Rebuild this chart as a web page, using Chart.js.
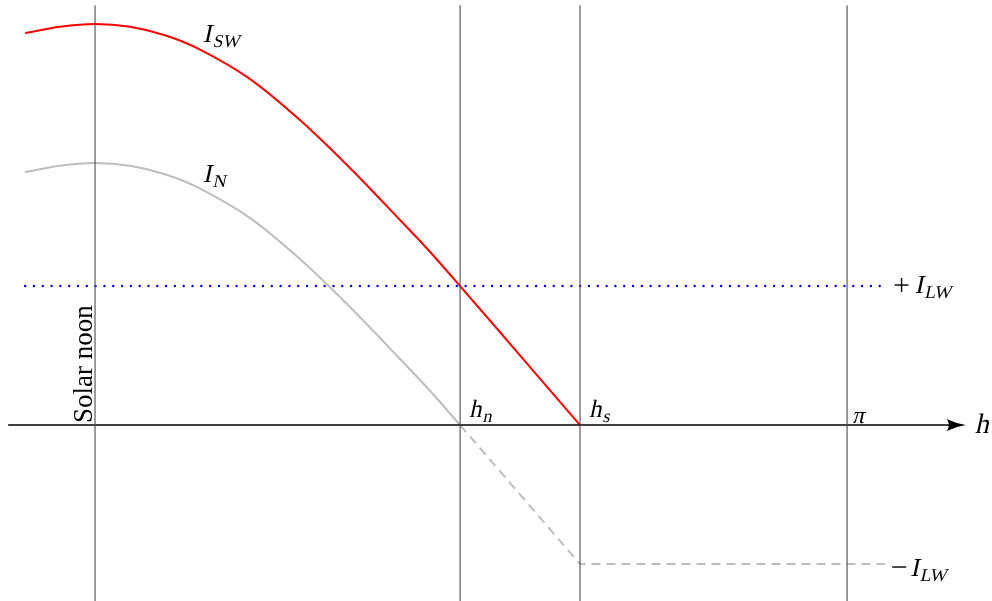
<!DOCTYPE html>
<html>
<head>
<meta charset="utf-8">
<script src="https://cdn.jsdelivr.net/npm/chart.js@4/dist/chart.umd.min.js"></script>
<style>
  body { margin: 0; background: #fff; }
  #wrap { width: 992px; height: 601px; position: relative; }
</style>
</head>
<body>
<div id="wrap"><canvas id="chart"></canvas></div>
<script>
// hour angle h (radians), solar noon at 0
const hDay = [-0.292, -0.146, 0, 0.146, 0.292, 0.439, 0.648, 0.856, 1.065, 1.274, 1.400, 1.525, 1.776, 2.026];
const iSW = [2.82, 2.865, 2.885, 2.865, 2.804, 2.701, 2.489, 2.194, 1.849, 1.475, 1.245, 1.0, 0.5, 0];
const hNet = [-0.292, -0.146, 0, 0.146, 0.292, 0.439, 0.648, 0.856, 1.065, 1.274, 1.400, 1.525];
const iN = [1.82, 1.865, 1.885, 1.865, 1.804, 1.701, 1.489, 1.194, 0.849, 0.475, 0.245, 0];
const hNight = [1.525, 2.026, 3.30];
const iNight = [0, -1, -1];
const iLW = 1;
const hLW = [-0.292, 3.30];
const hMarks = [0, 1.525, 2.026, Math.PI];
const markLabels = ["Solar noon", "h_n", "h_s", "π"];
const axisRange = [-0.363, 3.60];

const xy = (xs, ys) => xs.map((x, i) => ({ x: x, y: ys[i] }));

const datasets = [];
hMarks.forEach((h) => {
  datasets.push({
    data: [{ x: h, y: 3.02 }, { x: h, y: -1.3 }],
    borderColor: "#4d4d4d",
    borderWidth: 1.1,
  });
});
datasets.push({
  data: [{ x: axisRange[0], y: 0 }, { x: axisRange[1], y: 0 }],
  borderColor: "#000",
  borderWidth: 1.6,
});
datasets.push({
  data: xy(hLW, [iLW, iLW]),
  borderColor: "#0000ff",
  borderWidth: 2.4,
  borderDash: [0.01, 8.8],
  borderCapStyle: "round",
});
datasets.push({
  data: xy(hNight, iNight),
  borderColor: "#bdbdbd",
  borderWidth: 2,
  borderDash: [9, 6],
});
datasets.push({
  data: xy(hNet, iN),
  borderColor: "#bdbdbd",
  borderWidth: 2,
  tension: 0.3,
});
datasets.push({
  data: xy(hDay, iSW),
  borderColor: "#ff0000",
  borderWidth: 2,
  tension: 0.3,
});

const SERIF = "'Liberation Serif', 'Times New Roman', serif";

function italic(ctx, text, x, y, size) {
  ctx.save();
  ctx.translate(x, y);
  ctx.transform(1, 0, -0.22, 1, 0, 0);
  ctx.font = size + "px " + SERIF;
  ctx.fillText(text, 0, 0);
  const w = ctx.measureText(text).width;
  ctx.restore();
  return w;
}

function subText(ctx, main, sub, x, y, size) {
  const w = italic(ctx, main, x, y, size);
  italic(ctx, sub, x + w + 1, y + size * 0.2, Math.round(size * 0.7));
}

const labels = {
  id: "labels",
  afterDatasetsDraw(chart) {
    const ctx = chart.ctx;
    const sx = chart.scales.x, sy = chart.scales.y;
    const X = (v) => sx.getPixelForValue(v), Y = (v) => sy.getPixelForValue(v);
    ctx.save();
    ctx.fillStyle = "#000";
    ctx.textBaseline = "alphabetic";

    // arrow head
    const ax = X(axisRange[1]) + 9, ay = Y(0);
    ctx.beginPath();
    ctx.moveTo(ax, ay);
    ctx.quadraticCurveTo(ax - 10, ay - 1.5, ax - 19, ay - 6);
    ctx.quadraticCurveTo(ax - 15, ay, ax - 19, ay + 6);
    ctx.quadraticCurveTo(ax - 10, ay + 1.5, ax, ay);
    ctx.fill();

    subText(ctx, "I", "SW", X(0.45), Y(2.755), 26);
    subText(ctx, "I", "N", X(0.45), Y(1.748), 26);

    // plus / minus signs in front of I_LW
    const px = X(3.34), py = Y(iLW) - 1;
    ctx.fillRect(px, py - 0.7, 14, 1.4);
    ctx.fillRect(px + 6.3, py - 7, 1.4, 14);
    subText(ctx, "I", "LW", px + 20, Y(0.95), 26);
    const mx = X(3.33), my = Y(-1) + 3;
    ctx.fillRect(mx, my - 0.7, 14, 1.4);
    subText(ctx, "I", "LW", mx + 18, Y(-1.086), 26);

    const nm = markLabels[1].split("_"), sm = markLabels[2].split("_");
    subText(ctx, nm[0], nm[1], X(hMarks[1]) + 9, Y(0.058), 25);
    subText(ctx, sm[0], sm[1], X(hMarks[2]) + 9, Y(0.058), 25);
    italic(ctx, markLabels[3], X(hMarks[3]) + 5, Y(0.014), 24);
    italic(ctx, "h", X(3.675), Y(-0.058), 28);

    ctx.translate(X(hMarks[0]) - 3, Y(0) - 2);
    ctx.rotate(-Math.PI / 2);
    ctx.font = "27px " + SERIF;
    ctx.fillText(markLabels[0], 0, 0);
    ctx.restore();
  },
};

new Chart(document.getElementById("chart"), {
  type: "line",
  data: { datasets: datasets },
  options: {
    responsive: true,
    maintainAspectRatio: false,
    animation: false,
    layout: { padding: 0 },
    elements: { point: { radius: 0 } },
    plugins: { legend: { display: false }, tooltip: { enabled: false } },
    scales: {
      x: { type: "linear", min: -0.397, max: 3.747, display: false },
      y: { type: "linear", min: -1.266, max: 3.058, display: false },
    },
  },
  plugins: [labels],
});
</script>
</body>
</html>
